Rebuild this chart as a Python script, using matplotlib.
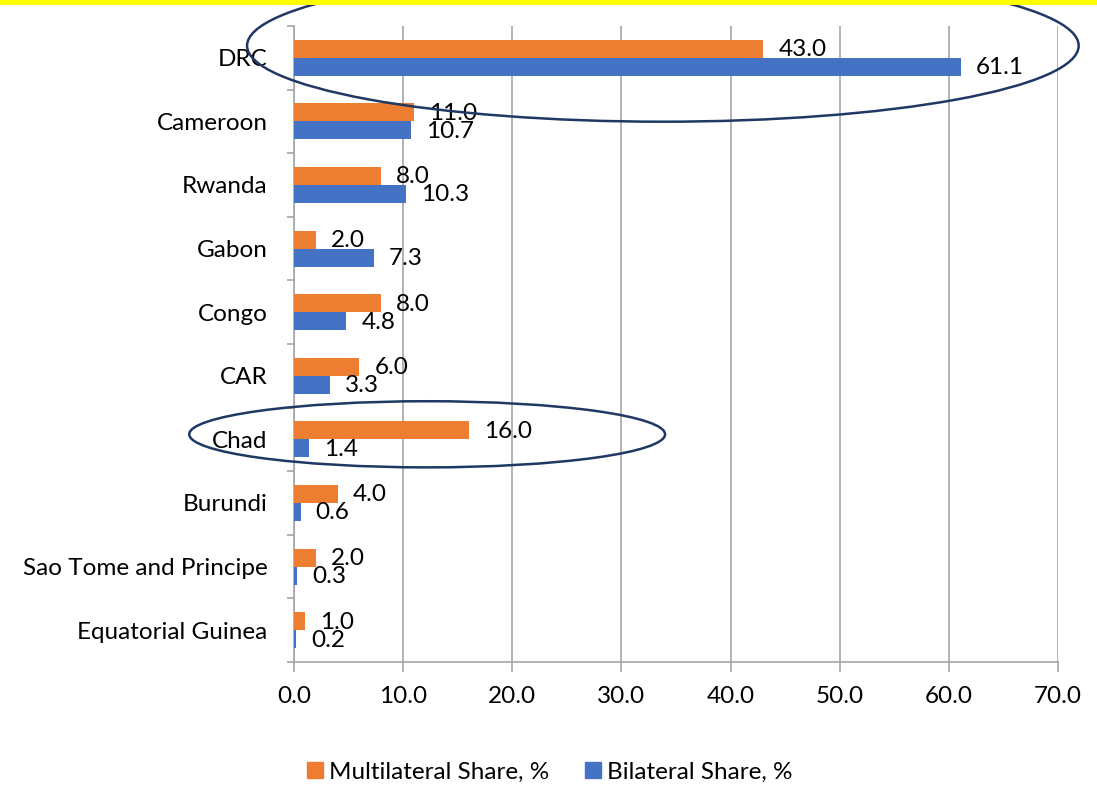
import matplotlib
matplotlib.use("Agg")
from matplotlib import pyplot as plt
from matplotlib.patches import Ellipse, Rectangle, Patch
import numpy as np

# data, bottom to top as drawn on the category axis
countries = ['Equatorial Guinea', 'Sao Tome and Principe', 'Burundi', 'Chad', 'CAR',
             'Congo', 'Gabon', 'Rwanda', 'Cameroon', 'DRC']
multilateral = [1.0, 2.0, 4.0, 16.0, 6.0, 8.0, 2.0, 8.0, 11.0, 43.0]
bilateral = [0.2, 0.3, 0.6, 1.4, 3.3, 4.8, 7.3, 10.3, 10.7, 61.1]
xticks = [0, 10, 20, 30, 40, 50, 60, 70]

orange = '#ED7D31'
blue = '#4472C4'
grid_gray = '#A6A6A6'
navy = '#1F3864'
fs = 17.5

plt.rcParams['font.family'] = ['Lato', 'DejaVu Sans']

fig = plt.figure(figsize=(10.97, 7.85), dpi=100)
ax = fig.add_axes([0.268, 0.1567, 0.6964, 0.8102])

y = np.arange(len(countries))
h = 0.283
ax.barh(y + h / 2, multilateral, height=h, color=orange, zorder=3)
ax.barh(y - h / 2, bilateral, height=h, color=blue, zorder=3)

for yi, m, b in zip(y, multilateral, bilateral):
    ax.annotate(f'{m:.1f}', (m, yi + h / 2), xytext=(15, -1), textcoords='offset pixels',
                ha='left', va='center', fontsize=fs, zorder=4)
    ax.annotate(f'{b:.1f}', (b, yi - h / 2), xytext=(15, -1), textcoords='offset pixels',
                ha='left', va='center', fontsize=fs, zorder=4)

ax.set_xlim(0, 70)
ax.set_ylim(-0.5, len(countries) - 0.5)
ax.set_xticks(xticks)
ax.set_xticklabels([f'{v:.1f}' for v in xticks], fontsize=fs)
ax.set_yticks(y)
ax.set_yticklabels(countries, fontsize=fs)
ax.set_yticks(np.arange(len(countries) + 1) - 0.5, minor=True)

ax.tick_params(axis='y', which='major', length=0, pad=19)
ax.tick_params(axis='y', which='minor', length=5, color=grid_gray, width=1.2)
ax.tick_params(axis='x', which='major', length=7, color=grid_gray, width=1.2, pad=10)

ax.grid(axis='x', color=grid_gray, linewidth=1.2, zorder=0)
ax.set_axisbelow(True)
for s in ['top', 'right']:
    ax.spines[s].set_visible(False)
for s in ['left', 'bottom']:
    ax.spines[s].set_color(grid_gray)
    ax.spines[s].set_linewidth(1.2)

# highlight rings around DRC and Chad
ax.add_patch(Ellipse((33.8, 9.19), 76.2, 2.39, fill=False, edgecolor=navy,
                     linewidth=1.8, clip_on=False, zorder=5))
ax.add_patch(Ellipse((12.2, 3.08), 43.6, 1.04, fill=False, edgecolor=navy,
                     linewidth=1.8, clip_on=False, zorder=5))

handles = [Patch(color=orange), Patch(color=blue)]
fig.legend(handles, ['Multilateral Share, %', 'Bilateral Share, %'], loc='center',
           bbox_to_anchor=(0.501, 0.0166), ncol=2, frameon=False, fontsize=fs,
           handlelength=0.66, handleheight=0.66, handletextpad=0.25, columnspacing=1.45)

# yellow strip along the top edge
fig.patches.append(Rectangle((0, 1 - 5 / 785), 1, 5 / 785, transform=fig.transFigure,
                             facecolor='#FFFF00', edgecolor='none', zorder=10))

fig.savefig('out.png', dpi=100)
